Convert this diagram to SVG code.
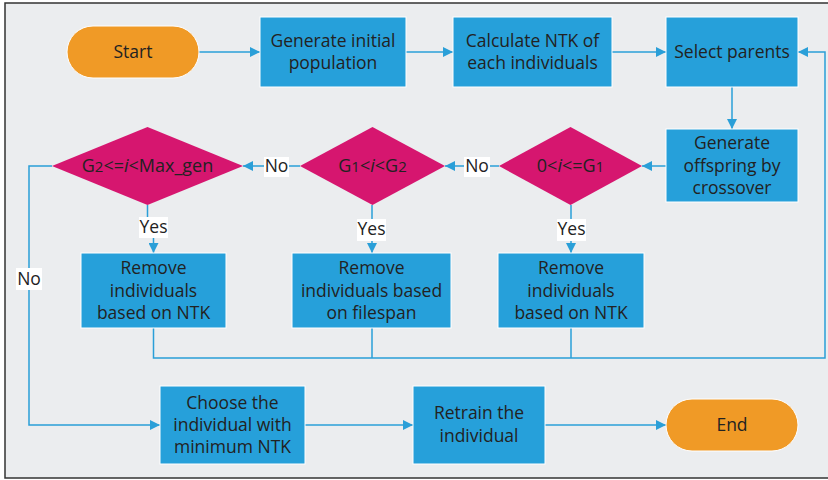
<svg xmlns="http://www.w3.org/2000/svg" width="828" height="480" viewBox="0 0 828 480">
<defs>
<style>
.bg{fill:#ebedef;stroke:#333;stroke-width:1.5}
.box{fill:#26a0da;stroke:#fff;stroke-width:1}
.term{fill:#f09a26;stroke:#fff;stroke-width:1}
.dia{fill:#d6166f}
.t{font-family:"Open Sans","Noto Sans",sans-serif;font-size:17.5px;fill:#222;text-anchor:middle}
.dt{font-size:18px}
.c{fill:none;stroke:#2a9fd8;stroke-width:1.5}
.lbl{fill:#fff}
</style>
<marker id="ah" viewBox="0 0 10 10" refX="10" refY="5" markerWidth="10" markerHeight="10" markerUnits="userSpaceOnUse" orient="auto">
<path d="M0,0 L10,5 L0,10 Z" fill="#2a9fd8"/>
</marker>
</defs>
<rect class="bg" x="5" y="3" width="830" height="475"/>
<g id="connectors">
<path class="c" d="M199,52 H260" marker-end="url(#ah)"/>
<path class="c" d="M406,52 H453" marker-end="url(#ah)"/>
<path class="c" d="M612,52 H666" marker-end="url(#ah)"/>
<path class="c" d="M732,87 V129" marker-end="url(#ah)"/>
<path class="c" d="M666,166 H642" marker-end="url(#ah)"/>
<path class="c" d="M499,166 H445" marker-end="url(#ah)"/>
<path class="c" d="M300,166 H243" marker-end="url(#ah)"/>
<path class="c" d="M147.5,205 V228 H153.5 V253" marker-end="url(#ah)"/>
<path class="c" d="M372,205 V253" marker-end="url(#ah)"/>
<path class="c" d="M571,205 V253" marker-end="url(#ah)"/>
<path class="c" d="M153.5,328 V358 H825 V52 H798" marker-end="url(#ah)"/>
<path class="c" d="M372,328 V358"/>
<path class="c" d="M571,328 V358"/>
<path class="c" d="M52,166 H29 V425 H160" marker-end="url(#ah)"/>
<path class="c" d="M305,425 H413" marker-end="url(#ah)"/>
<path class="c" d="M545,425 H666" marker-end="url(#ah)"/>
<g id="labels">
<rect class="lbl" x="264" y="157" width="25" height="20"/>
<text class="t" x="276.5" y="172">No</text>
<rect class="lbl" x="464" y="157" width="26" height="20"/>
<text class="t" x="477" y="172">No</text>
<rect class="lbl" x="16" y="268" width="26" height="22"/>
<text class="t" x="29" y="285">No</text>
<rect class="lbl" x="139" y="217" width="29" height="21"/>
<text class="t" x="153.5" y="233">Yes</text>
<rect class="lbl" x="357" y="219" width="29" height="22"/>
<text class="t" x="371.5" y="235">Yes</text>
<rect class="lbl" x="557" y="219" width="29" height="22"/>
<text class="t" x="571.5" y="235">Yes</text>
</g>
</g>
<g id="start"><rect class="term" x="67" y="26" width="132" height="52" rx="26"/><text class="t" x="133" y="58">Start</text></g>
<g id="generate"><rect class="box" x="260" y="17" width="146" height="70"/><text class="t" x="333" y="47">Generate initial</text><text class="t" x="333" y="69">population</text></g>
<g id="calculate"><rect class="box" x="453" y="17" width="159" height="70"/><text class="t" x="532.5" y="47">Calculate NTK of</text><text class="t" x="532.5" y="69">each individuals</text></g>
<g id="select"><rect class="box" x="666" y="17" width="132" height="70"/><text class="t" x="732" y="58">Select parents</text></g>
<g id="offspring"><rect class="box" x="666" y="129" width="132" height="73"/><text class="t" x="732" y="149">Generate</text><text class="t" x="732" y="172">offspring by</text><text class="t" x="732" y="194">crossover</text></g>
<g id="d1"><polygon class="dia" points="570.5,127 642,166 570.5,205 499,166"/><text class="t dt" x="570.5" y="172">0&lt;<tspan font-style="italic">i</tspan>&lt;=G<tspan font-size="15">1</tspan></text></g>
<g id="d2"><polygon class="dia" points="372.5,127 445,166 372.5,205 300,166"/><text class="t dt" x="372.5" y="172">G<tspan font-size="15">1</tspan>&lt;<tspan font-style="italic">i</tspan>&lt;G<tspan font-size="15">2</tspan></text></g>
<g id="d3"><polygon class="dia" points="147.5,127 243,166 147.5,205 52,166"/><text class="t dt" x="147.5" y="172">G<tspan font-size="15">2</tspan>&lt;=<tspan font-style="italic">i</tspan>&lt;Max_gen</text></g>
<g id="remove1"><rect class="box" x="81" y="253" width="145" height="75"/><text class="t" x="153.5" y="274">Remove</text><text class="t" x="153.5" y="297">individuals</text><text class="t" x="153.5" y="319">based on NTK</text></g>
<g id="remove2"><rect class="box" x="292" y="253" width="159" height="75"/><text class="t" x="371.5" y="274">Remove</text><text class="t" x="371.5" y="297">individuals based</text><text class="t" x="371.5" y="319">on filespan</text></g>
<g id="remove3"><rect class="box" x="498" y="253" width="146" height="75"/><text class="t" x="571" y="274">Remove</text><text class="t" x="571" y="297">individuals</text><text class="t" x="571" y="319">based on NTK</text></g>
<g id="choose"><rect class="box" x="160" y="386" width="145" height="78"/><text class="t" x="232.5" y="409">Choose the</text><text class="t" x="232.5" y="431">individual with</text><text class="t" x="232.5" y="453">minimum NTK</text></g>
<g id="retrain"><rect class="box" x="413" y="386" width="132" height="78"/><text class="t" x="479" y="419">Retrain the</text><text class="t" x="479" y="442">individual</text></g>
<g id="end"><rect class="term" x="666" y="399" width="132" height="52" rx="26"/><text class="t" x="732" y="431">End</text></g>
</svg>
